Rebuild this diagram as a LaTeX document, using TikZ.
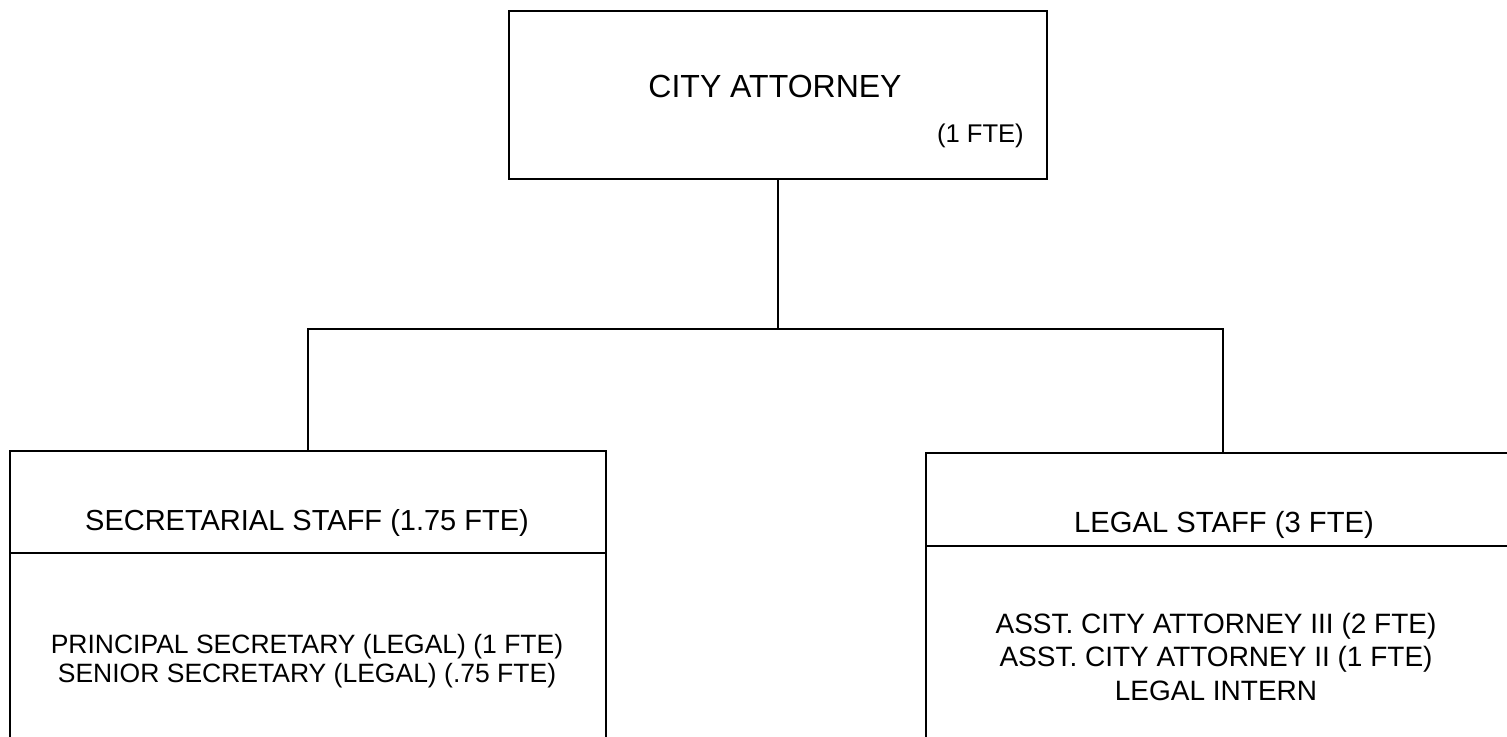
\documentclass[tikz,border=0pt]{standalone}
\usepackage{fontspec}
\setmainfont{Liberation Sans}
\usepackage{tikz}
\usetikzlibrary{positioning}

\begin{document}
\begin{tikzpicture}[x=0.5pt, y=-0.5pt, line width=1pt,
		unitbox/.style={draw, rectangle, inner sep=0pt},
		txt/.style={inner sep=0pt, align=center}]
			\useasboundingbox (0,0) rectangle (1507,736);
			% boxes
			\node[unitbox, minimum width=269pt, minimum height=84pt] (ca) at (778,95) {};
			\node[unitbox, minimum width=298pt, minimum height=174.5pt] (sec) at (308,625.5) {};
			\node[unitbox, minimum width=297pt, minimum height=173.5pt] (lsc) at (1223,626.5) {};
			\draw (sec.north west) ++(0,103) -- ++(598,0);
			\draw (lsc.north west) ++(0,94) -- ++(600,0);
			% connectors
			\coordinate (bus) at (778,329);
			\draw (ca.south) -- (bus);
			\draw (sec.north) |- (bus) -| (lsc.north);
			% texts
				\node[txt, anchor=base, font=\fontsize{16pt}{19pt}\selectfont] (catitle) at (775,97) {CITY ATTORNEY};
				\node[txt, anchor=base west, font=\fontsize{12.8pt}{15pt}\selectfont] (cafte) at (936,142) {(1 FTE)};
				\node[txt, anchor=base, font=\fontsize{14.5pt}{17pt}\selectfont] (sectitle) at (307,530) {SECRETARIAL STAFF (1.75 FTE)};
				\node[txt, font=\fontsize{13.25pt}{14.5pt}\selectfont] (seclist) at (307,661) {PRINCIPAL SECRETARY (LEGAL) (1 FTE)\\SENIOR SECRETARY (LEGAL) (.75 FTE)};
				\node[txt, anchor=base, font=\fontsize{14.6pt}{17pt}\selectfont] (lsctitle) at (1224,532) {LEGAL STAFF (3 FTE)};
				\node[txt, font=\fontsize{14pt}{16.75pt}\selectfont] (lsclist) at (1216,656.5) {ASST. CITY ATTORNEY III (2 FTE)\\ASST. CITY ATTORNEY II (1 FTE)\\LEGAL INTERN};
		\end{tikzpicture}
\end{document}
